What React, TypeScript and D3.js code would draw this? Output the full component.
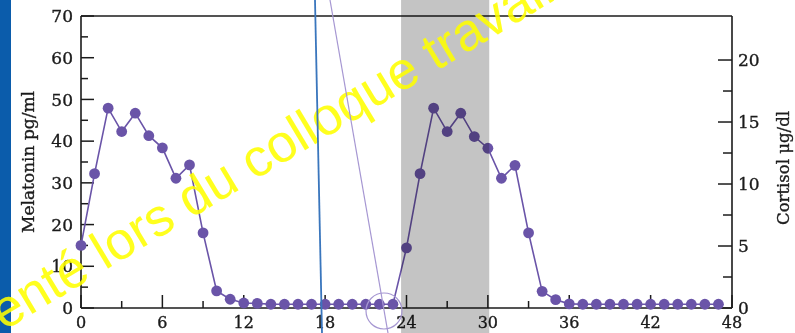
import React from 'react';
import * as d3 from 'd3';

// hours since start of recording
const hours = [
  0, 1, 2, 3, 4, 5, 6, 7, 8, 9, 10, 11, 12, 13, 14, 15, 16, 17, 18, 19, 20, 21, 22, 23,
  24, 25, 26, 27, 28, 29, 30, 31, 32, 33, 34, 35, 36, 37, 38, 39, 40, 41, 42, 43, 44, 45, 46, 47,
];

// melatonin pg/ml
const melatonin = [
  15, 32.2, 47.9, 42.3, 46.7, 41.3, 38.4, 31.1, 34.3, 18, 4.1, 2.1, 1.2, 1.1, 0.9, 0.9, 0.9, 0.9, 0.9, 0.9, 0.9, 0.9, 0.9, 0.9,
  14.4, 32.2, 47.9, 42.3, 46.7, 41.1, 38.3, 31.1, 34.2, 18, 4, 2, 1, 0.9, 0.9, 0.9, 0.9, 0.9, 0.9, 0.9, 0.9, 0.9, 0.9, 0.9,
];

const xMajorTicks = [0, 6, 12, 18, 24, 30, 36, 42, 48];
const xMinorTicks = [3, 9, 15, 21, 27, 33, 39, 45];
const cortisolMajor = [0, 5, 10, 15, 20];
const cortisolMinor = [2.5, 7.5, 12.5, 17.5];
const darkBand = [23.6, 30.1];

const W = 795;
const H = 333;
const serif = '"DejaVu Serif", serif';

export default function App() {
  const x = d3.scaleLinear().domain([0, 48]).range([81, 732]);
  const y = d3.scaleLinear().domain([0, 70]).range([308, 16]);
  const y2 = d3.scaleLinear().domain([0, 23.55]).range([308, 16]);

  const line = d3
    .line<number>()
    .x((d, i) => x(hours[i]))
    .y((d) => y(d));

  const ink = '#1b1b1b';
  const purple = '#6a54a8';
  // slightly heavier strokes on the serif text, the scan looks bold-ish
  const textStroke = { stroke: ink, strokeWidth: 0.35 };

  return (
    <svg
      width={W}
      height={H}
      style={{ position: 'fixed', left: 0, top: 0, background: '#fff' }}
    >
      <rect x={0} y={0} width={W} height={H} fill="#fff" />

      {/* axes frame */}
      <g stroke={ink} strokeWidth={1.6} fill="none">
        <line x1={x(0)} x2={x(48)} y1={y(70)} y2={y(70)} />
        <line x1={x(0)} x2={x(48)} y1={y(0)} y2={y(0)} />
        <line x1={x(0)} x2={x(0)} y1={y(0)} y2={y(70)} />
        <line x1={x(48)} x2={x(48)} y1={y(0)} y2={y(70)} />
      </g>

      {/* left ticks */}
      <g stroke={ink} strokeWidth={1.5}>
        {y.ticks(14).map((t) => (
          <line key={t} x1={x(0)} x2={x(0) + (t % 10 === 0 ? 13 : 7)} y1={y(t)} y2={y(t)} />
        ))}
      </g>
      <g fontFamily={serif} fontSize={17} fill={ink} textAnchor="end" {...textStroke}>
        {y.ticks(7).map((t) => (
          <text key={t} x={x(0) - 8} y={y(t)} dy="0.36em">
            {t}
          </text>
        ))}
      </g>

      {/* right ticks */}
      <g stroke={ink} strokeWidth={1.5}>
        {cortisolMajor.map((t) => (
          <line key={t} x1={x(48) - 14} x2={x(48)} y1={y2(t)} y2={y2(t)} />
        ))}
        {cortisolMinor.map((t) => (
          <line key={t} x1={x(48) - 9} x2={x(48)} y1={y2(t)} y2={y2(t)} />
        ))}
      </g>
      <g fontFamily={serif} fontSize={17} fill={ink} textAnchor="start" {...textStroke}>
        {cortisolMajor.map((t) => (
          <text key={t} x={x(48) + 6} y={y2(t)} dy="0.36em">
            {t}
          </text>
        ))}
      </g>

      {/* bottom ticks */}
      <g stroke={ink} strokeWidth={1.5}>
        {xMajorTicks.map((t) => (
          <line key={t} x1={x(t)} x2={x(t)} y1={y(0)} y2={y(0) - 13} />
        ))}
        {xMinorTicks.map((t) => (
          <line key={t} x1={x(t)} x2={x(t)} y1={y(0)} y2={y(0) - 7} />
        ))}
      </g>
      <g fontFamily={serif} fontSize={16} fill={ink} textAnchor="middle" {...textStroke}>
        {xMajorTicks.map((t) => (
          <text key={t} x={x(t)} y={328}>
            {t}
          </text>
        ))}
      </g>

      {/* axis titles */}
      <text
        transform={`translate(34,${(y(0) + y(70)) / 2}) rotate(-90)`}
        textAnchor="middle"
        fontFamily={serif}
        fontSize={17}
        fill={ink}
        {...textStroke}
      >
        Melatonin pg/ml
      </text>
      <text
        transform={`translate(789,${(y(0) + y(70)) / 2 + 6}) rotate(-90)`}
        textAnchor="middle"
        fontFamily={serif}
        fontSize={16.5}
        fill={ink}
        {...textStroke}
      >
        Cortisol μg/dl
      </text>

      {/* melatonin series */}
      <path d={line(melatonin) || ''} fill="none" stroke={purple} strokeWidth={1.6} />
      <g fill={purple}>
        {melatonin.map((v, i) => (
          <circle key={i} cx={x(hours[i])} cy={y(v)} r={5.4} />
        ))}
      </g>

      {/* shaded night band */}
      <rect
        x={x(darkBand[0])}
        y={0}
        width={x(darkBand[1]) - x(darkBand[0])}
        height={H}
        fill="#c4c4c4"
        style={{ mixBlendMode: 'multiply' }}
      />

      {/* slide edge */}
      <rect x={0} y={0} width={11} height={H} fill="#0b5cab" />

      {/* watermark */}
      <text
        transform="translate(4,331) rotate(-31)"
        fontFamily='"Liberation Sans", Arial, sans-serif'
        fontSize={53}
        fill="#ffff00"
        opacity={0.88}
      >
        enté lors du colloque travail
      </text>

      {/* pen annotations */}
      <line x1={315} y1={0} x2={322} y2={H} stroke="#3a76bd" strokeWidth={1.8} />
      <line x1={330} y1={0} x2={388} y2={H} stroke="#a697d2" strokeWidth={1.2} />
      <circle cx={384} cy={311} r={18} fill="none" stroke="#a697d2" strokeWidth={1.2} />
    </svg>
  );
}
